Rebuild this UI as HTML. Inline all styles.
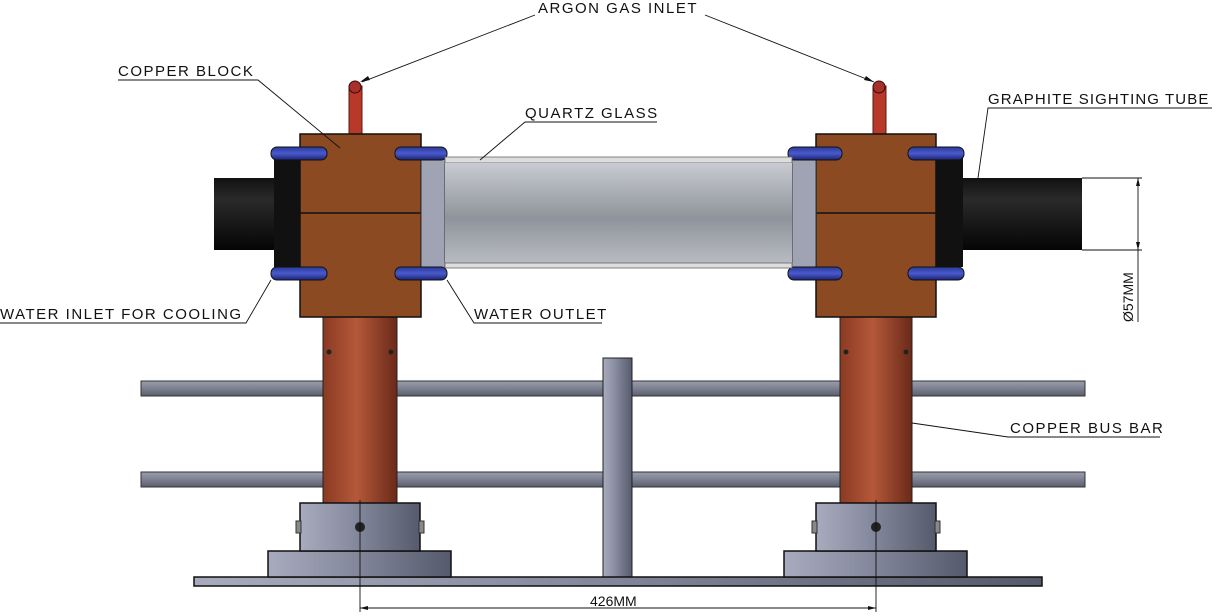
<!DOCTYPE html>
<html><head><meta charset="utf-8"><style>
html,body{margin:0;padding:0;background:#fff;width:1216px;height:616px;overflow:hidden}
text{font-family:"Liberation Sans",sans-serif;font-size:15px;letter-spacing:1.5px;fill:#111}
</style></head><body>
<svg width="1216" height="616" viewBox="0 0 1216 616" xmlns="http://www.w3.org/2000/svg">
<defs>
<linearGradient id="cu" x1="0" x2="1"><stop offset="0" stop-color="#8a3a22"/><stop offset="0.45" stop-color="#b5583a"/><stop offset="1" stop-color="#6a2a18"/></linearGradient>
<linearGradient id="gv" x1="0" x2="1"><stop offset="0" stop-color="#a8abbd"/><stop offset="0.4" stop-color="#8a8ea2"/><stop offset="1" stop-color="#555a6c"/></linearGradient>
<linearGradient id="rod" x1="0" y1="0" x2="0" y2="1"><stop offset="0" stop-color="#9a9eac"/><stop offset="0.5" stop-color="#7c8090"/><stop offset="1" stop-color="#5a5e6c"/></linearGradient>
<linearGradient id="qz" x1="0" y1="0" x2="0" y2="1"><stop offset="0" stop-color="#c8cbd0"/><stop offset="0.3" stop-color="#a9adb4"/><stop offset="0.55" stop-color="#8f939b"/><stop offset="1" stop-color="#b8bbc1"/></linearGradient>
<linearGradient id="blk" x1="0" y1="0" x2="0" y2="1"><stop offset="0" stop-color="#111"/><stop offset="0.3" stop-color="#2a2a2a"/><stop offset="1" stop-color="#050505"/></linearGradient>
<linearGradient id="blue" x1="0" y1="0" x2="0" y2="1"><stop offset="0" stop-color="#2a3a9a"/><stop offset="0.5" stop-color="#4a5acc"/><stop offset="1" stop-color="#1a2270"/></linearGradient>
</defs>

<rect x="141" y="381" width="944" height="15" fill="url(#rod)" stroke="#333"/>
<rect x="141" y="472" width="944" height="15" fill="url(#rod)" stroke="#333"/>
<rect x="603" y="358" width="29" height="220" fill="url(#gv)" stroke="#222"/>
<rect x="194" y="577" width="848" height="9" fill="url(#gv)" stroke="#111" stroke-width="1.5"/>

<g id="L">
<rect x="323" y="317" width="74" height="187" fill="url(#cu)" stroke="#222"/>
<circle cx="329" cy="352" r="2.5" fill="#222"/><circle cx="391" cy="352" r="2.5" fill="#222"/>
<rect x="268" y="551" width="183" height="26" fill="url(#gv)" stroke="#111" stroke-width="1.5"/>
<rect x="300" y="503" width="120" height="48" fill="url(#gv)" stroke="#111" stroke-width="1.5"/>
<rect x="296" y="521" width="5" height="12" fill="#888" stroke="#333"/>
<rect x="419" y="521" width="5" height="12" fill="#888" stroke="#333"/>
<circle cx="360" cy="527" r="5" fill="#222"/>
<rect x="349" y="86" width="13" height="50" fill="#b8382a" stroke="#5a1a10"/>
<circle cx="355" cy="87" r="6" fill="#a8302a" stroke="#3a0a08"/>
<rect x="214" y="178" width="62" height="72" fill="url(#blk)"/>
<rect x="274" y="157" width="27" height="110" fill="#111"/>
<rect x="300" y="134" width="121" height="183" fill="#8b4a22" stroke="#111" stroke-width="1.5"/>
<line x1="300" y1="213" x2="421" y2="213" stroke="#111" stroke-width="1.5"/>
<rect x="421" y="157" width="24" height="111" fill="#a0a3b3" stroke="#333"/>
<rect x="271" y="147" width="56" height="13" rx="6" fill="url(#blue)" stroke="#111"/>
<rect x="271" y="267" width="56" height="13" rx="6" fill="url(#blue)" stroke="#111"/>
<rect x="395" y="147" width="52" height="13" rx="6" fill="url(#blue)" stroke="#111"/>
<rect x="395" y="267" width="52" height="13" rx="6" fill="url(#blue)" stroke="#111"/>
</g>

<g id="R">
<rect x="840" y="317" width="72" height="187" fill="url(#cu)" stroke="#222"/>
<circle cx="846" cy="352" r="2.5" fill="#222"/><circle cx="906" cy="352" r="2.5" fill="#222"/>
<rect x="784" y="551" width="183" height="26" fill="url(#gv)" stroke="#111" stroke-width="1.5"/>
<rect x="816" y="503" width="120" height="48" fill="url(#gv)" stroke="#111" stroke-width="1.5"/>
<rect x="812" y="521" width="5" height="12" fill="#888" stroke="#333"/>
<rect x="935" y="521" width="5" height="12" fill="#888" stroke="#333"/>
<circle cx="876" cy="527" r="5" fill="#222"/>
<rect x="873" y="86" width="13" height="50" fill="#b8382a" stroke="#5a1a10"/>
<circle cx="879" cy="87" r="6" fill="#a8302a" stroke="#3a0a08"/>
<rect x="961" y="178" width="121" height="72" fill="url(#blk)"/>
<rect x="936" y="157" width="27" height="110" fill="#111"/>
<rect x="816" y="134" width="120" height="183" fill="#8b4a22" stroke="#111" stroke-width="1.5"/>
<line x1="816" y1="213" x2="936" y2="213" stroke="#111" stroke-width="1.5"/>
<rect x="792" y="157" width="24" height="111" fill="#a0a3b3" stroke="#333"/>
<rect x="788" y="147" width="54" height="13" rx="6" fill="url(#blue)" stroke="#111"/>
<rect x="788" y="267" width="54" height="13" rx="6" fill="url(#blue)" stroke="#111"/>
<rect x="908" y="147" width="56" height="13" rx="6" fill="url(#blue)" stroke="#111"/>
<rect x="908" y="267" width="56" height="13" rx="6" fill="url(#blue)" stroke="#111"/>
</g>

<rect x="445" y="157" width="347" height="6" fill="#ddd" stroke="#666" stroke-width="0.8"/>
<rect x="445" y="163" width="347" height="100" fill="url(#qz)"/>
<rect x="445" y="263" width="347" height="5" fill="#ddd" stroke="#666" stroke-width="0.8"/>

<g stroke="#111" stroke-width="0.9" fill="none">
<line x1="535" y1="15" x2="362" y2="82"/>
<line x1="705" y1="15" x2="874" y2="82"/>
<polyline points="118,80 258,80 340,148"/>
<polyline points="657,122 525,122 480,160"/>
<polyline points="1212,108 988,108 978,178"/>
<polyline points="0,323 246,323 271,280"/>
<polyline points="602,323 474,323 447,280"/>
<polyline points="1160,437 1008,437 912,423"/>
<line x1="360" y1="500" x2="360" y2="612"/>
<line x1="876" y1="500" x2="876" y2="612"/>
<line x1="360" y1="608" x2="876" y2="608"/>
<line x1="1082" y1="178" x2="1142" y2="178"/>
<line x1="1082" y1="250" x2="1142" y2="250"/>
<line x1="1138" y1="178" x2="1138" y2="322"/>
</g>
<g fill="#111">
<polygon points="360,82 368,76 370,80"/>
<polygon points="874,82 866,76 864,80"/>
<polygon points="360,608 368,606 368,610"/><polygon points="876,608 868,606 868,610"/>
<polygon points="1138,178 1136,186 1140,186"/><polygon points="1138,250 1136,242 1140,242"/>
</g>

<text x="538" y="13">ARGON GAS INLET</text>
<text x="118" y="76">COPPER BLOCK</text>
<text x="525" y="118">QUARTZ GLASS</text>
<text x="988" y="104" style="letter-spacing:1.1px">GRAPHITE SIGHTING TUBE</text>
<text x="0" y="319">WATER INLET FOR COOLING</text>
<text x="474" y="319">WATER OUTLET</text>
<text x="1010" y="433">COPPER BUS BAR</text>
<text x="590" y="606" style="font-size:14px;letter-spacing:0">426MM</text>
<text transform="translate(1133,322) rotate(-90)" style="font-size:14px;letter-spacing:0">Ø57MM</text>
</svg>
</body></html>
